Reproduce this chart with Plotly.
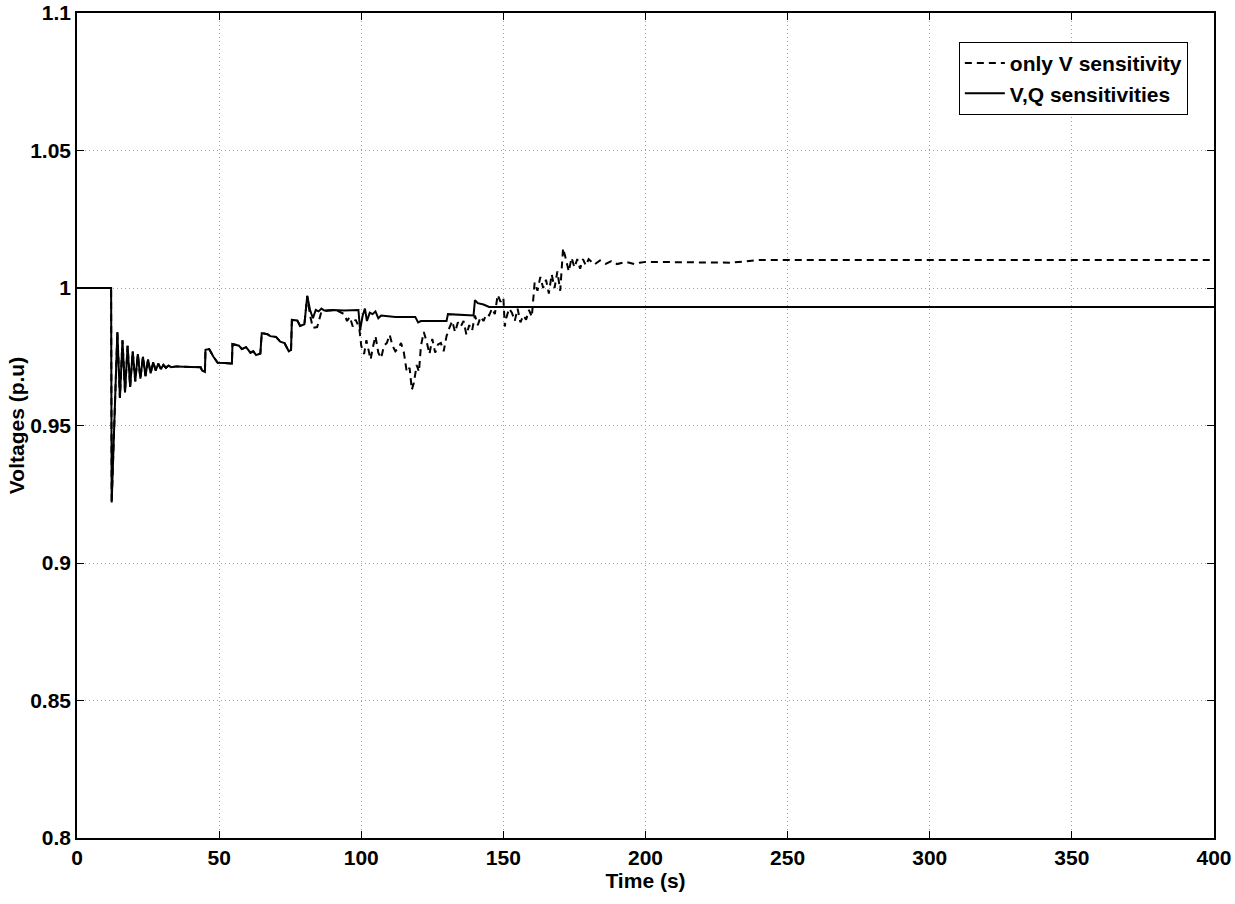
import plotly.graph_objects as go

# Common response before the two control schemes diverge (t in s, V in p.u.)
t_common = [0, 12.0, 12.2, 13.0, 14.2, 15.1, 16.0, 16.9, 17.8, 18.7, 19.6, 20.5, 21.4,
            22.3, 23.2, 24.1, 25.0, 25.9, 26.8, 27.7, 28.6, 29.5, 30.4, 31.3, 32.2,
            33.1, 35, 40, 43.5, 44, 45, 45.2, 46.5, 48, 49.5, 52, 54.5, 54.7, 57, 58,
            59.5, 61, 62, 63, 64.5, 65, 67, 68, 70, 71.5, 73, 74.5, 75.3, 75.6, 77.5,
            78.5, 80, 81]
v_common = [1.0, 1.0, 0.922, 0.950, 0.984, 0.960, 0.981, 0.962, 0.979, 0.964, 0.977,
            0.966, 0.976, 0.967, 0.975, 0.968, 0.974, 0.969, 0.973, 0.970, 0.9725,
            0.9705, 0.972, 0.971, 0.9718, 0.9712, 0.9715, 0.9713, 0.9712, 0.970,
            0.9695, 0.9775, 0.9778, 0.975, 0.9728, 0.9727, 0.9725, 0.9796, 0.979,
            0.9778, 0.9785, 0.9765, 0.977, 0.9756, 0.9762, 0.9836, 0.9832, 0.9825,
            0.9822, 0.9805, 0.980, 0.977, 0.9775, 0.9884, 0.9882, 0.9862, 0.9868,
            0.9971]

# V,Q sensitivities: remainder of the trajectory
t_vq_tail = [82, 83, 84, 85, 86, 87, 90, 94, 99, 99.6, 100.5, 101.3, 102, 103, 104,
             105, 106, 107, 112, 119, 120, 121, 130, 130.5, 139.5, 140, 141, 143,
             145, 400]
v_vq_tail = [0.992, 0.989, 0.992, 0.9915, 0.9925, 0.9918, 0.992, 0.9918, 0.992,
             0.9847, 0.990, 0.9925, 0.988, 0.991, 0.9905, 0.9915, 0.989, 0.990,
             0.9895, 0.9895, 0.9875, 0.988, 0.988, 0.9905, 0.990, 0.9956, 0.9945,
             0.994, 0.9931, 0.9931]

# Only V sensitivity: remainder of the trajectory
t_v_tail = [82, 83, 84.5, 86, 88, 91, 94, 95, 96, 97, 98, 99.3, 100, 101, 101.8, 102.5,
            103.3, 104, 105, 106, 107, 108, 109, 110, 111, 112, 113, 114, 115, 116,
            117, 117.8, 118.5, 119.5, 120.3, 121, 122, 123, 124, 125, 126, 127, 128,
            129, 130, 131, 132, 133, 134, 135, 136, 137, 138, 139, 140, 141, 142, 143,
            144, 145, 146, 147, 148, 149, 150, 150.5, 151, 152, 153, 154, 155, 156,
            157, 158, 159, 160, 161, 162, 163, 164, 165, 166, 167, 168, 169, 170,
            170.5, 171, 172, 173, 174, 175, 176, 177, 178, 179, 180, 182, 184, 186,
            188, 190, 193, 196, 198, 200, 230, 240, 400]
v_v_tail = [0.990, 0.9855, 0.9858, 0.9915, 0.9918, 0.992, 0.9905, 0.988, 0.9895,
            0.986, 0.9885, 0.9855, 0.979, 0.976, 0.981, 0.9775, 0.974, 0.978, 0.9825,
            0.9765, 0.9745, 0.979, 0.980, 0.983, 0.979, 0.977, 0.978, 0.980, 0.9765,
            0.9695, 0.971, 0.963, 0.9655, 0.972, 0.9695, 0.979, 0.984, 0.9805, 0.976,
            0.9815, 0.9765, 0.9795, 0.980, 0.977, 0.9825, 0.9855, 0.988, 0.984, 0.9875,
            0.986, 0.988, 0.983, 0.9865, 0.9845, 0.990, 0.9865, 0.9895, 0.988, 0.9905,
            0.990, 0.9925, 0.9905, 0.9975, 0.995, 0.9965, 0.986, 0.989, 0.9925, 0.991,
            0.988, 0.9925, 0.9875, 0.990, 0.9885, 0.992, 0.9895, 1.002, 0.999, 1.004,
            1.000, 1.003, 0.998, 1.005, 1.000, 1.006, 0.999, 1.0085, 1.0145, 1.0105,
            1.006, 1.011, 1.0075, 1.0105, 1.007, 1.0105, 1.0082, 1.0105, 1.0085, 1.010,
            1.0088, 1.0098, 1.0087, 1.0095, 1.0087, 1.0092, 1.0095, 1.0092, 1.0102,
            1.0102]

x_ticks = [0, 50, 100, 150, 200, 250, 300, 350, 400]
y_ticks = [0.8, 0.85, 0.9, 0.95, 1.0, 1.05, 1.1]
y_tick_text = ["0.8", "0.85", "0.9", "0.95", "1", "1.05", "1.1"]

FONT = "Liberation Sans, Arial, sans-serif"

fig = go.Figure()
fig.add_trace(go.Scatter(
    x=t_common + t_v_tail, y=v_common + v_v_tail, mode="lines",
    name="<b>only V sensitivity</b>",
    line=dict(color="black", width=2, dash="7px,5px"),
))
fig.add_trace(go.Scatter(
    x=t_common + t_vq_tail, y=v_common + v_vq_tail, mode="lines",
    name="<b>V,Q sensitivities</b>",
    line=dict(color="black", width=2),
))

axis_common = dict(
    showline=True, linecolor="black", linewidth=1.5, mirror="ticks",
    ticks="inside", ticklen=7, tickcolor="black", automargin=False,
    showgrid=True, gridcolor="#a0a0a0", griddash="1px,3px", gridwidth=1,
    zeroline=False,
    tickfont=dict(family=FONT, size=21, color="black", weight="bold"),
)

fig.update_layout(
    width=1235, height=904,
    margin=dict(l=77, r=21, t=13, b=66),
    paper_bgcolor="white", plot_bgcolor="white",
    font=dict(family=FONT, color="black"),
    xaxis=dict(range=[0, 400], tickvals=x_ticks, ticktext=[str(v) for v in x_ticks],
               title=dict(text="<b>Time (s)</b>", font=dict(family=FONT, size=21),
                          standoff=4),
               **axis_common),
    yaxis=dict(range=[0.8, 1.1], tickvals=y_ticks, ticktext=y_tick_text,
               title=dict(text="<b>Voltages (p.u)</b>", font=dict(family=FONT, size=21),
                          standoff=0),
               **axis_common),
    legend=dict(x=0.977, y=0.965, xanchor="right", yanchor="top",
                bgcolor="white", bordercolor="black", borderwidth=1,
                font=dict(family=FONT, size=21, color="black"),
                tracegroupgap=0, itemwidth=40),
    showlegend=True,
)

fig.write_html("out.html")
